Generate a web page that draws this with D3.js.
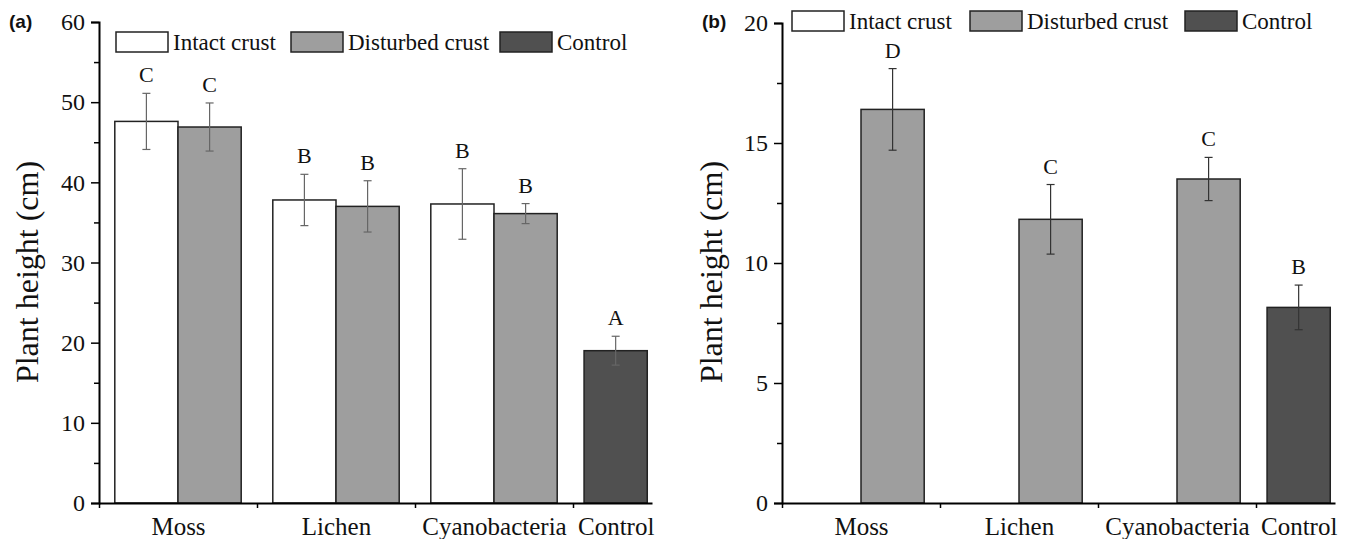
<!DOCTYPE html>
<html>
<head>
<meta charset="utf-8">
<script src="https://cdn.jsdelivr.net/npm/d3@7"></script>
<style>
  body { margin: 0; background: #fff; }
  text { font-family: "Liberation Serif", "Times New Roman", serif; fill: #111; }
  .panel-tag { font-family: "Liberation Sans", Arial, sans-serif; font-weight: bold; font-size: 19px; }
</style>
</head>
<body>
<script>
// categories and their slot on the x axis (Control sits a bit closer)
var categories = ["Moss", "Lichen", "Cyanobacteria", "Control"];
var catPos = [1, 2, 3, 3.77];
var groupTicks = [0.5, 1.5, 2.5, 3.5];

var seriesNames = ["Intact crust", "Disturbed crust", "Control"];
var seriesColors = ["#ffffff", "#9e9e9e", "#505050"];

// panel (a)
var intactA = [47.6, 37.8, 37.3];
var intactErrA = [3.5, 3.2, 4.4];
var intactLetterA = ["C", "B", "B"];
var disturbedA = [46.9, 37.0, 36.1];
var disturbedErrA = [3.0, 3.2, 1.25];
var disturbedLetterA = ["C", "B", "B"];
var controlA = [19.0];
var controlErrA = [1.8];
var controlLetterA = ["A"];

// panel (b)
var intactB = [];
var intactErrB = [];
var intactLetterB = [];
var disturbedB = [16.4, 11.82, 13.5];
var disturbedErrB = [1.7, 1.45, 0.9];
var disturbedLetterB = ["D", "C", "C"];
var controlB = [8.15];
var controlErrB = [0.93];
var controlLetterB = ["B"];

var svg = d3.select("body").append("svg")
  .attr("width", 1357)
  .attr("height", 539);

function rows(vals, errs, letters, offset, series) {
  return vals.map(function (v, i) {
    var pos = series == 2 ? catPos[3] : catPos[i];
    return { pos: pos, x0: pos + offset, v: v, e: errs[i], l: letters[i], s: series };
  });
}

function drawPanel(cfg) {
  var x = d3.scaleLinear().domain([0.5, 4.0]).range([cfg.left, cfg.right]);
  var y = d3.scaleLinear().domain([0, cfg.ymax]).range([503, cfg.top]);
  var g = svg.append("g");

  var data = [].concat(
    rows(cfg.intact, cfg.intactErr, cfg.intactLetter, -0.4, 0),
    rows(cfg.disturbed, cfg.disturbedErr, cfg.disturbedLetter, 0, 1),
    rows(cfg.control, cfg.controlErr, cfg.controlLetter, -0.2, 2)
  );

  var bw = x(0.9) - x(0.5);

  g.selectAll("rect.bar")
    .data(data)
    .enter().append("rect")
    .attr("class", "bar")
    .attr("x", function (d) { return x(d.x0); })
    .attr("width", bw)
    .attr("y", function (d) { return y(d.v); })
    .attr("height", function (d) { return y(0) - y(d.v); })
    .attr("fill", function (d) { return seriesColors[d.s]; })
    .attr("stroke", "#222")
    .attr("stroke-width", 1.5);

  // error bars
  var eb = g.selectAll("g.err")
    .data(data)
    .enter().append("g")
    .attr("class", "err")
    .attr("stroke", cfg.errColor)
    .attr("stroke-width", 1.2);
  eb.append("line")
    .attr("x1", function (d) { return x(d.x0) + bw / 2; })
    .attr("x2", function (d) { return x(d.x0) + bw / 2; })
    .attr("y1", function (d) { return y(d.v + d.e); })
    .attr("y2", function (d) { return y(d.v - d.e); });
  [1, -1].forEach(function (sg) {
    eb.append("line")
      .attr("x1", function (d) { return x(d.x0) + bw / 2 - 4; })
      .attr("x2", function (d) { return x(d.x0) + bw / 2 + 4; })
      .attr("y1", function (d) { return y(d.v + sg * d.e); })
      .attr("y2", function (d) { return y(d.v + sg * d.e); });
  });

  // significance letters
  g.selectAll("text.letter")
    .data(data)
    .enter().append("text")
    .attr("class", "letter")
    .attr("x", function (d) { return x(d.x0) + bw / 2; })
    .attr("y", function (d) { return y(d.v + d.e) - 11; })
    .attr("text-anchor", "middle")
    .style("font-size", "22px")
    .text(function (d) { return d.l; });

  // y axis, major + minor ticks
  var yAxis = d3.axisLeft(y).tickValues(cfg.yticks).tickSize(8).tickPadding(6);
  var ya = g.append("g")
    .attr("transform", "translate(" + cfg.left + ",0)")
    .call(yAxis);
  ya.select(".domain").attr("stroke-width", 2);
  ya.selectAll(".tick line").attr("stroke-width", 1.5);
  ya.selectAll(".tick text").style("font-size", "24px").attr("fill", "#111");

  g.append("g")
    .attr("transform", "translate(" + cfg.left + ",0)")
    .call(d3.axisLeft(y).tickValues(cfg.yminor).tickSize(5).tickFormat(""))
    .call(function (s) { s.select(".domain").remove(); s.selectAll("line").attr("stroke-width", 1.5); });

  // x axis: group tick marks, then category labels
  var xa = g.append("g")
    .attr("transform", "translate(0,503)")
    .call(d3.axisBottom(x).tickValues(groupTicks).tickSize(5).tickSizeOuter(0).tickFormat(""));
  xa.select(".domain").attr("stroke-width", 2);
  xa.selectAll(".tick line").attr("stroke-width", 1.5);

  var xl = g.append("g")
    .attr("transform", "translate(0,503)")
    .call(d3.axisBottom(x).tickValues(catPos).tickSize(0).tickPadding(14)
      .tickFormat(function (d, i) { return categories[i]; }));
  xl.select(".domain").remove();
  xl.selectAll(".tick text").style("font-size", "25px").attr("fill", "#111");

  // y title
  g.append("text")
    .attr("transform", "translate(" + cfg.titleX + ",272) rotate(-90)")
    .attr("text-anchor", "middle")
    .style("font-size", "32px")
    .text("Plant height (cm)");

  g.append("text")
    .attr("class", "panel-tag")
    .attr("x", cfg.tagX)
    .attr("y", 28)
    .text(cfg.tag);

  // legend
  var lg = g.append("g").attr("transform", "translate(0," + cfg.legendY + ")");
  var items = lg.selectAll("g")
    .data(seriesNames)
    .enter().append("g")
    .attr("transform", function (d, i) { return "translate(" + cfg.legendX[i] + ",0)"; });
  items.append("rect")
    .attr("width", 52).attr("height", 20).attr("y", -10)
    .attr("fill", function (d, i) { return seriesColors[i]; })
    .attr("stroke", "#222").attr("stroke-width", 1.5);
  items.append("text")
    .attr("x", 57).attr("y", 8)
    .style("font-size", "23px")
    .text(function (d) { return d; });
}

drawPanel({
  left: 99, right: 652, top: 22, ymax: 60,
  yticks: [0, 10, 20, 30, 40, 50, 60], yminor: [5, 15, 25, 35, 45, 55],
  intact: intactA, intactErr: intactErrA, intactLetter: intactLetterA,
  disturbed: disturbedA, disturbedErr: disturbedErrA, disturbedLetter: disturbedLetterA,
  control: controlA, controlErr: controlErrA, controlLetter: controlLetterA,
  errColor: "#666",
  titleX: 38, tag: "(a)", tagX: 9, legendY: 42, legendX: [116, 291, 500]
});

drawPanel({
  left: 782, right: 1335, top: 23, ymax: 20,
  yticks: [0, 5, 10, 15, 20], yminor: [2.5, 7.5, 12.5, 17.5],
  intact: intactB, intactErr: intactErrB, intactLetter: intactLetterB,
  disturbed: disturbedB, disturbedErr: disturbedErrB, disturbedLetter: disturbedLetterB,
  control: controlB, controlErr: controlErrB, controlLetter: controlLetterB,
  errColor: "#333",
  titleX: 722, tag: "(b)", tagX: 702, legendY: 21, legendX: [792, 970, 1185]
});
</script>
</body>
</html>
